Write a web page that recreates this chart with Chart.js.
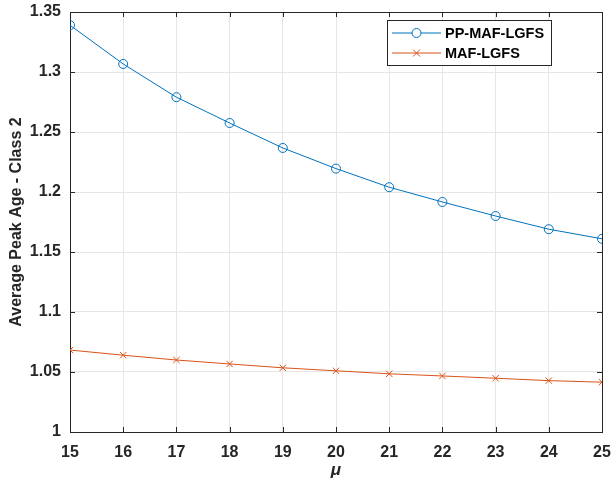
<!DOCTYPE html>
<html>
<head>
<meta charset="utf-8">
<script src="https://cdn.jsdelivr.net/npm/chart.js@4/dist/chart.umd.min.js"></script>
<style>
  body { margin: 0; background: #fff; }
  canvas { display: block; }
</style>
</head>
<body>
<canvas id="chart" width="611" height="487"></canvas>
<script>
'use strict';

// data
const mu = [15, 16, 17, 18, 19, 20, 21, 22, 23, 24, 25];
const ppMafLgfs = [1.339, 1.3067, 1.279, 1.2575, 1.2367, 1.2195, 1.204, 1.1917, 1.18, 1.169, 1.161];
const mafLgfs = [1.0683, 1.064, 1.06, 1.0567, 1.0535, 1.051, 1.0485, 1.0467, 1.0448, 1.0428, 1.0415];
const yTicks = [1, 1.05, 1.1, 1.15, 1.2, 1.25, 1.3, 1.35];
const seriesNames = ['PP-MAF-LGFS', 'MAF-LGFS'];

const axisColor = '#262626';
const FONT = 'Arial, "Liberation Sans", Helvetica, sans-serif';

// MATLAB-style box with inward ticks
const boxPlugin = {
  id: 'box',
  beforeDatasetsDraw(chart) {
    const {ctx, chartArea: a, scales} = chart;
    ctx.save();
    ctx.strokeStyle = axisColor;
    ctx.lineWidth = 1;
    ctx.beginPath();
    mu.forEach(v => {
      const x = Math.round(scales.x.getPixelForValue(v)) + 0.5;
      ctx.moveTo(x, a.bottom); ctx.lineTo(x, a.bottom - 5);
      ctx.moveTo(x, a.top); ctx.lineTo(x, a.top + 5);
    });
    yTicks.forEach(v => {
      const y = Math.round(scales.y.getPixelForValue(v)) + 0.5;
      ctx.moveTo(a.left, y); ctx.lineTo(a.left + 5, y);
      ctx.moveTo(a.right, y); ctx.lineTo(a.right - 5, y);
    });
    ctx.stroke();
    ctx.strokeRect(Math.round(a.left) + 0.5, Math.round(a.top) + 0.5,
      Math.round(a.right - a.left), Math.round(a.bottom - a.top));
    ctx.restore();
  },
  afterDraw(chart) {
    // legend box
    const {ctx} = chart;
    const bx = 387, by = 20, bw = 164, bh = 45;
    ctx.save();
    ctx.fillStyle = '#fff';
    ctx.fillRect(bx, by, bw, bh);
    ctx.strokeStyle = axisColor;
    ctx.lineWidth = 1;
    ctx.strokeRect(bx + 0.5, by + 0.5, bw, bh);
    ctx.font = 'bold 14.5px ' + FONT;
    ctx.textBaseline = 'middle';
    chart.data.datasets.forEach((ds, i) => {
      const y = by + 13 + i * 20;
      ctx.strokeStyle = ds.borderColor;
      ctx.lineWidth = 1;
      ctx.beginPath();
      ctx.moveTo(bx + 5, y); ctx.lineTo(bx + 54, y);
      ctx.stroke();
      const cx = bx + 29.5;
      ctx.beginPath();
      if (ds.pointStyle === 'circle') {
        ctx.fillStyle = '#fff';
        ctx.arc(cx, y, 4.5, 0, Math.PI * 2);
        ctx.fill();
      } else {
        const r = 3.5;
        ctx.moveTo(cx - r, y - r); ctx.lineTo(cx + r, y + r);
        ctx.moveTo(cx - r, y + r); ctx.lineTo(cx + r, y - r);
      }
      ctx.stroke();
      ctx.fillStyle = '#000';
      ctx.fillText(ds.label, bx + 58, y + 1);
    });
    ctx.restore();
  }
};

new Chart(document.getElementById('chart').getContext('2d'), {
  type: 'line',
  data: {
    datasets: [
      {
        label: seriesNames[0],
        data: mu.map((x, i) => ({x: x, y: ppMafLgfs[i]})),
        borderColor: '#0072BD',
        backgroundColor: 'rgba(255,255,255,0)',
        borderWidth: 1,
        pointStyle: 'circle',
        pointRadius: 4.5,
        pointBorderWidth: 1,
        pointBackgroundColor: 'rgba(255,255,255,0)',
        pointBorderColor: '#0072BD',
        tension: 0
      },
      {
        label: seriesNames[1],
        data: mu.map((x, i) => ({x: x, y: mafLgfs[i]})),
        borderColor: '#D95319',
        backgroundColor: 'rgba(255,255,255,0)',
        borderWidth: 1,
        pointStyle: 'crossRot',
        pointRadius: 4.5,
        pointBorderWidth: 1,
        pointBorderColor: '#D95319',
        tension: 0
      }
    ]
  },
  options: {
    responsive: false,
    animation: false,
    devicePixelRatio: 1,
    layout: {
      padding: { top: 12, right: 9, left: 0, bottom: 0 }
    },
    plugins: {
      legend: { display: false },
      tooltip: { enabled: false }
    },
    scales: {
      x: {
        type: 'linear',
        min: 15,
        max: 25,
        afterFit(scale) {
          scale.height = 55;
          scale.paddingLeft = 0; scale.paddingRight = 0;
        },
        afterBuildTicks(scale) { scale.ticks = mu.map(v => ({value: v})); },
        grid: { color: '#e6e6e6', drawTicks: false },
        border: { display: false },
        ticks: {
          padding: 11,
          color: axisColor,
          font: { family: FONT, size: 16, weight: 'bold' },
          maxRotation: 0
        },
        title: {
          display: true,
          text: 'μ',
          color: axisColor,
          padding: { top: 0, bottom: 6 },
          font: { family: FONT, size: 17, weight: 'bold', style: 'italic' }
        }
      },
      y: {
        type: 'linear',
        min: 1,
        max: 1.35,
        afterFit(scale) {
          scale.width = 70;
          scale.paddingTop = 0; scale.paddingBottom = 0;
        },
        afterBuildTicks(scale) { scale.ticks = yTicks.map(v => ({value: v})); },
        grid: { color: '#e6e6e6', drawTicks: false },
        border: { display: false },
        ticks: {
          padding: 9,
          color: axisColor,
          font: { family: FONT, size: 16, weight: 'bold' },
          callback: v => String(Math.round(v * 100) / 100)
        },
        title: {
          display: true,
          text: 'Average Peak Age - Class 2',
          color: axisColor,
          padding: { top: 7, bottom: 0 },
          font: { family: FONT, size: 16, weight: 'bold' }
        }
      }
    }
  },
  plugins: [boxPlugin]
});
</script>
</body>
</html>
